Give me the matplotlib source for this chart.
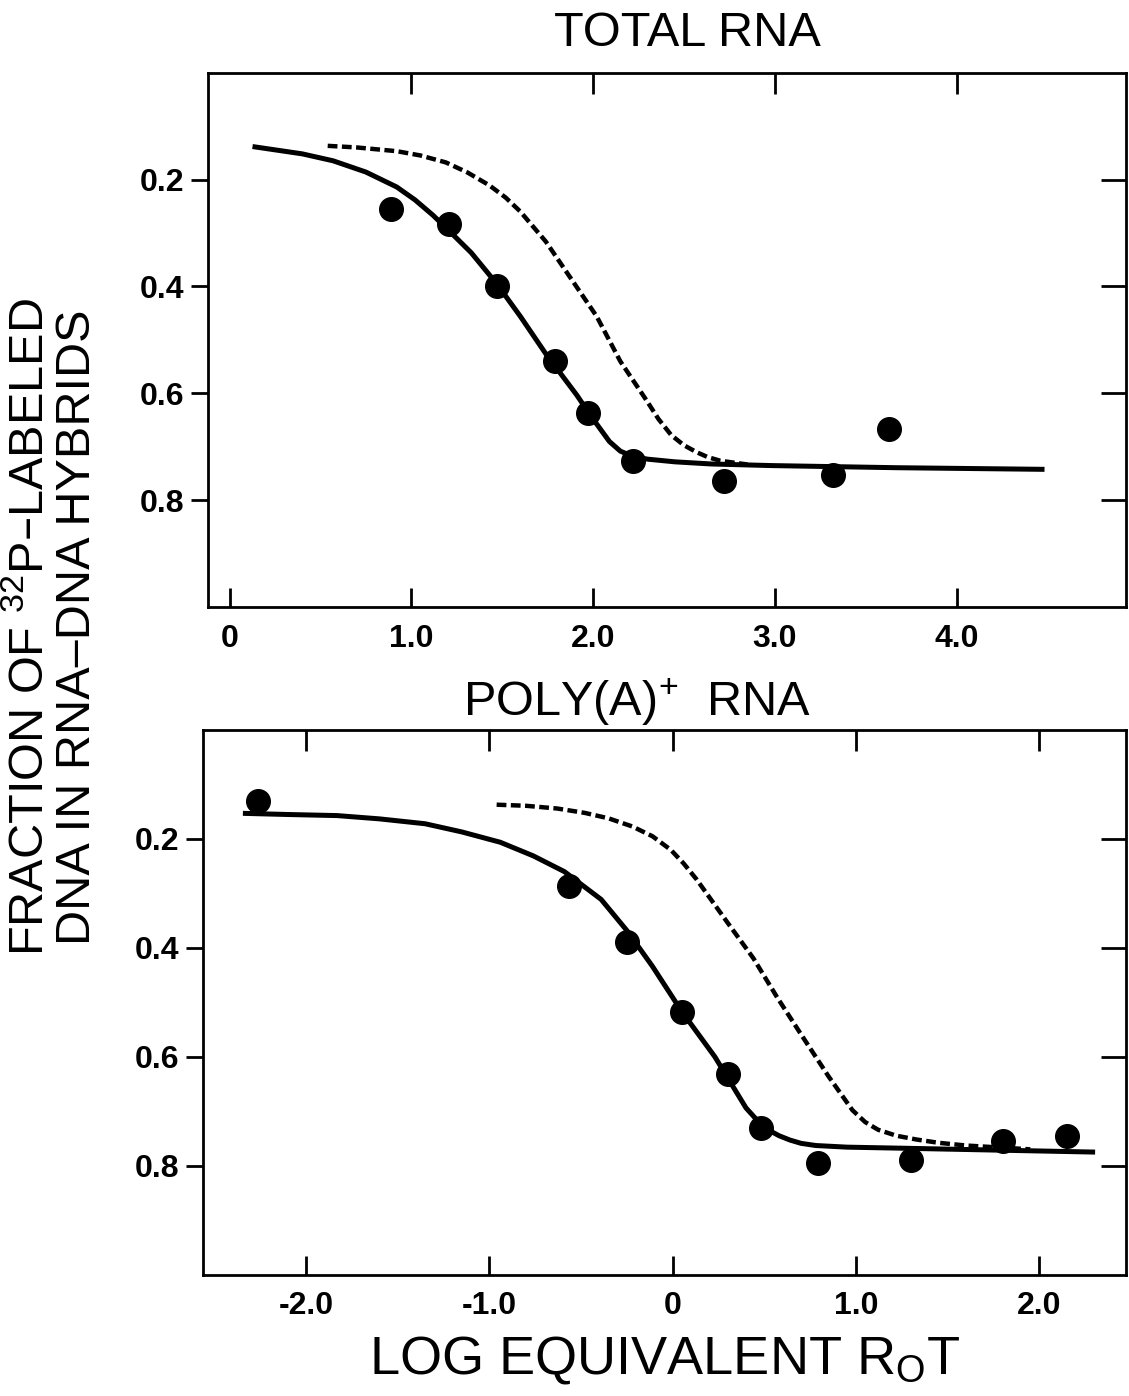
import matplotlib
matplotlib.use("Agg")
import matplotlib.pyplot as plt

plt.rcParams['font.family'] = ['Liberation Sans', 'DejaVu Sans']
plt.rcParams['mathtext.default'] = 'regular'

# total RNA panel
tot_pts_x = [0.89, 1.21, 1.47, 1.79, 1.97, 2.22, 2.72, 3.32, 3.63]
tot_pts_y = [0.255, 0.284, 0.400, 0.540, 0.636, 0.726, 0.763, 0.753, 0.667]
tot_fit_x = [0.14, 0.40, 0.57, 0.75, 0.92, 1.02, 1.12, 1.22, 1.33, 1.47, 1.60, 1.74, 1.91, 2.00, 2.09, 2.15, 2.22, 2.30,
             2.45, 2.65, 2.98, 3.67, 4.47]
tot_fit_y = [0.139, 0.152, 0.165, 0.186, 0.214, 0.238, 0.267, 0.300, 0.337, 0.395, 0.456, 0.526, 0.603, 0.648, 0.690,
             0.708, 0.718, 0.723, 0.728, 0.732, 0.735, 0.739, 0.742]
tot_ref_x = [0.54, 0.70, 0.92, 1.05, 1.19, 1.31, 1.43, 1.52, 1.60, 1.74, 1.88, 2.02, 2.15, 2.29, 2.36, 2.43, 2.50, 2.57,
             2.63, 2.70, 2.85]
tot_ref_y = [0.137, 0.140, 0.147, 0.155, 0.168, 0.187, 0.211, 0.234, 0.260, 0.316, 0.386, 0.456, 0.540, 0.611, 0.648,
             0.678, 0.697, 0.710, 0.719, 0.726, 0.733]

# poly(A)+ RNA panel
pa_pts_x = [-2.26, -0.566, -0.25, 0.05, 0.30, 0.48, 0.79, 1.30, 1.80, 2.15]
pa_pts_y = [0.131, 0.287, 0.390, 0.517, 0.632, 0.730, 0.795, 0.790, 0.755, 0.746]
pa_fit_x = [-2.33, -2.10, -1.83, -1.60, -1.35, -1.15, -0.94, -0.76, -0.59, -0.39, -0.25, -0.11, 0.05, 0.23, 0.40,
            0.47, 0.52, 0.58, 0.64, 0.70, 0.78, 0.95, 1.26, 2.29]
pa_fit_y = [0.153, 0.155, 0.157, 0.163, 0.172, 0.187, 0.206, 0.231, 0.260, 0.311, 0.368, 0.434, 0.517, 0.600, 0.694,
            0.720, 0.734, 0.745, 0.753, 0.759, 0.763, 0.766, 0.768, 0.775]
pa_ref_x = [-0.96, -0.80, -0.63, -0.48, -0.35, -0.22, -0.11, -0.01, 0.06, 0.13, 0.30, 0.44, 0.57, 0.71, 0.85, 0.98,
            1.05, 1.12, 1.22, 1.33, 1.45, 1.60, 1.95]
pa_ref_y = [0.137, 0.139, 0.144, 0.152, 0.162, 0.177, 0.195, 0.220, 0.245, 0.274, 0.354, 0.419, 0.491, 0.564, 0.636,
            0.698, 0.720, 0.734, 0.745, 0.752, 0.758, 0.763, 0.770]

yticks = [0.2, 0.4, 0.6, 0.8]
ytick_labels = ['0.2', '0.4', '0.6', '0.8']
tot_xticks = [0, 1, 2, 3, 4]
tot_xtick_labels = ['0', '1.0', '2.0', '3.0', '4.0']
pa_xticks = [-2, -1, 0, 1, 2]
pa_xtick_labels = ['-2.0', '-1.0', '0', '1.0', '2.0']

fig = plt.figure(figsize=(11.29, 13.96), dpi=100)
ax1 = fig.add_axes([0.184, 0.565, 0.813, 0.383])
ax2 = fig.add_axes([0.180, 0.087, 0.817, 0.390])


def style(ax, xt, xtl, top_ticks, xlim):
    ax.set_xlim(*xlim)
    ax.set_ylim(1.0, 0.0)
    ax.set_xticks(xt)
    ax.set_xticklabels(xtl)
    ax.set_yticks(yticks)
    ax.set_yticklabels(ytick_labels)
    for s in ax.spines.values():
        s.set_linewidth(2)
    ax.tick_params(axis='x', direction='in', length=14, width=2, pad=12, labelsize=23)
    ax.tick_params(axis='y', direction='out', length=12, width=2, pad=5, labelsize=23)
    for lab in ax.get_xticklabels() + ax.get_yticklabels():
        lab.set_fontweight('bold')
    top = ax.secondary_xaxis('top')
    top.set_xticks(top_ticks)
    top.set_xticklabels([])
    top.tick_params(direction='in', length=15, width=2)
    right = ax.secondary_yaxis('right')
    right.set_yticks(yticks)
    right.set_yticklabels([])
    right.tick_params(direction='in', length=18, width=2)


ax1.plot(tot_ref_x, tot_ref_y, color='black', lw=3.2, ls=(0, (2.2, 1.0)))
ax1.plot(tot_fit_x, tot_fit_y, color='black', lw=3.6)
ax1.plot(tot_pts_x, tot_pts_y, 'o', color='black', ms=17)
style(ax1, tot_xticks, tot_xtick_labels, [1, 2, 3, 4], (-0.12, 4.93))

ax2.plot(pa_ref_x, pa_ref_y, color='black', lw=3.2, ls=(0, (2.2, 1.0)))
ax2.plot(pa_fit_x, pa_fit_y, color='black', lw=3.6)
ax2.plot(pa_pts_x, pa_pts_y, 'o', color='black', ms=17)
style(ax2, pa_xticks, pa_xtick_labels, [-2, -1, 0, 1, 2], (-2.56, 2.47))

fig.text(0.609, 0.976, 'TOTAL RNA', ha='center', va='center', fontsize=35)
fig.text(0.564, 0.497, 'POLY(A)$^{+}$  RNA', ha='center', va='center', fontsize=35)
fig.text(0.589, 0.026, 'LOG EQUIVALENT R$_{O}$T', ha='center', va='center', fontsize=39)
fig.text(0.027, 0.551, 'FRACTION OF $^{32}$P\u2013LABELED', rotation=90,
         ha='center', va='center', fontsize=35)
fig.text(0.069, 0.551, 'DNA IN RNA\u2013DNA HYBRIDS', rotation=90,
         ha='center', va='center', fontsize=35)

fig.savefig('out.png', dpi=100)
